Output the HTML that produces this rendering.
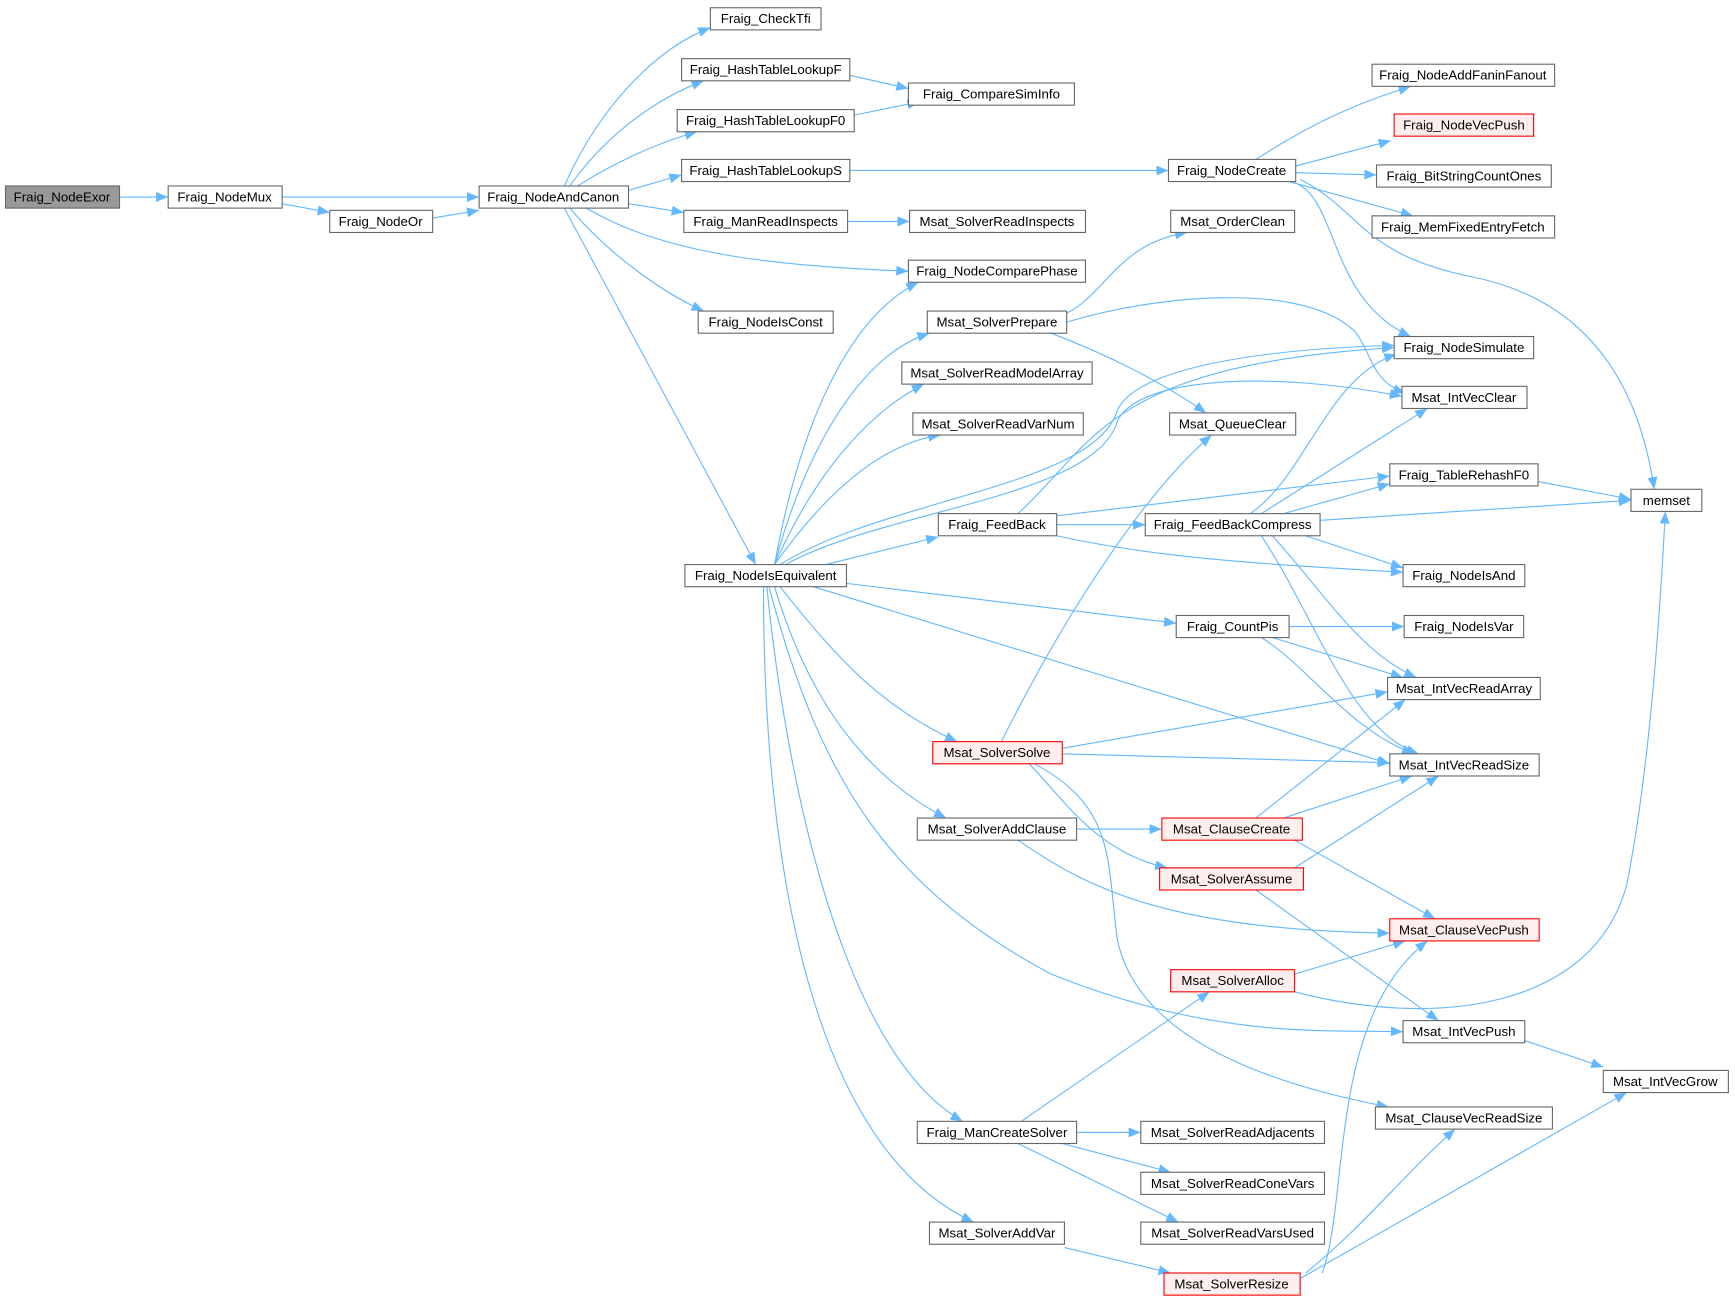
<!DOCTYPE html>
<html><head><meta charset="utf-8"><style>html,body{margin:0;padding:0;background:#fff}svg{display:block}</style></head>
<body>
<svg width="1735" height="1304" viewBox="0 0 1568 1178" preserveAspectRatio="none" xmlns="http://www.w3.org/2000/svg">
<defs>
<marker id="a" markerUnits="userSpaceOnUse" markerWidth="12" markerHeight="10" refX="11" refY="5" orient="auto"><path d="M0,0.5 L11,5 L0,9.5 Z" fill="#63b8ff"/></marker>
</defs>
<g fill="none" stroke="#63b8ff" stroke-width="1" marker-end="url(#a)">
<path d="M108,178 L152,178"/>
<path d="M255,178 L433,178"/>
<path d="M255,184 L298,192"/>
<path d="M391,197 L433,190"/>
<path d="M510,168 C540,100 590,45 642,25"/>
<path d="M515,168 C545,125 590,90 636,73"/>
<path d="M522,168 C550,150 590,130 630,119"/>
<path d="M568,172 L616,158"/>
<path d="M568,184 L618,192"/>
<path d="M530,188 C600,230 700,240 821,245"/>
<path d="M515,188 C550,230 600,265 636,281"/>
<path d="M510,188 L683,510"/>
<path d="M768,68 L821,80"/>
<path d="M772,104 L831,92"/>
<path d="M768,154 L1056,154"/>
<path d="M766,200 L822,200"/>
<path d="M1135,144 C1180,115 1220,95 1275,78"/>
<path d="M1171,150 L1257,127"/>
<path d="M1171,156 L1244,158"/>
<path d="M1165,164 L1277,195"/>
<path d="M1170,165 C1210,180 1200,270 1275,304"/>
<path d="M1175,162 C1230,190 1230,230 1330,250 C1430,270 1480,340 1495,442"/>
<path d="M964,283 C1000,265 1010,220 1073,210"/>
<path d="M964,291 C1050,265 1180,255 1225,300 C1240,320 1240,345 1270,355"/>
<path d="M950,301 C1000,320 1050,345 1090,373"/>
<path d="M700,510 C720,400 760,290 830,255"/>
<path d="M700,510 C730,400 780,320 840,301"/>
<path d="M700,510 C740,420 790,370 835,347"/>
<path d="M700,510 C750,440 800,400 850,393"/>
<path d="M705,510 C800,450 990,440 1010,370 C1030,330 1150,315 1260,312"/>
<path d="M710,510 C800,460 990,450 1010,380 C1030,340 1150,335 1267,358"/>
<path d="M746,510 L848,485"/>
<path d="M765,527 L1063,563"/>
<path d="M735,530 L1256,690"/>
<path d="M705,530 C760,600 800,640 865,670"/>
<path d="M700,530 C730,630 780,700 855,739"/>
<path d="M695,530 C740,700 800,800 950,880 C1100,940 1200,930 1268,932"/>
<path d="M693,530 C710,700 760,950 870,1013"/>
<path d="M690,530 C690,800 740,1040 880,1104"/>
<path d="M920,464 C990,400 1000,330 1260,314"/>
<path d="M955,466 L1256,430"/>
<path d="M955,474 L1035,474"/>
<path d="M955,484 C1050,505 1150,510 1268,517"/>
<path d="M1130,464 C1180,430 1200,340 1262,320"/>
<path d="M1140,464 L1290,369"/>
<path d="M1160,464 L1256,437"/>
<path d="M1193,470 L1474,452"/>
<path d="M1180,484 L1268,513"/>
<path d="M1150,484 C1200,540 1230,590 1280,612"/>
<path d="M1140,484 C1190,560 1220,660 1282,681"/>
<path d="M1390,435 L1474,451"/>
<path d="M1165,566 L1269,566"/>
<path d="M1150,576 L1268,612"/>
<path d="M1140,576 C1180,600 1220,660 1278,681"/>
<path d="M905,670 C970,540 1040,440 1095,393"/>
<path d="M960,676 L1254,625"/>
<path d="M960,681 L1256,689"/>
<path d="M930,690 C960,720 990,770 1055,784"/>
<path d="M935,690 C1010,730 1000,780 1010,850 C1030,940 1150,980 1255,1000"/>
<path d="M973,749 L1050,749"/>
<path d="M920,759 C980,800 1050,840 1256,843"/>
<path d="M1135,739 L1270,632"/>
<path d="M1160,739 L1276,701"/>
<path d="M1170,759 L1297,830"/>
<path d="M1170,784 L1300,701"/>
<path d="M1135,804 L1300,922"/>
<path d="M1170,880 L1270,850"/>
<path d="M1170,896 C1300,930 1440,910 1470,800 C1490,700 1500,560 1505,462"/>
<path d="M1378,940 L1449,964"/>
<path d="M923,1013 L1093,896"/>
<path d="M973,1023 L1031,1023"/>
<path d="M960,1033 L1058,1059"/>
<path d="M920,1033 L1065,1104"/>
<path d="M962,1127 L1058,1150"/>
<path d="M1195,1150 C1220,1080 1200,920 1290,850"/>
<path d="M1180,1150 C1230,1110 1270,1060 1315,1020"/>
<path d="M1175,1155 L1470,987"/>
</g>
<g font-family="Liberation Sans, Arial, sans-serif" font-size="12" text-anchor="middle" fill="#000">
<g stroke="#666" stroke-width="1" fill="#fff">
<rect x="5" y="168" width="103" height="20" fill="#999"/>
<rect x="152" y="168" width="103" height="20"/>
<rect x="298" y="190" width="93" height="20"/>
<rect x="433" y="168" width="135" height="20"/>
<rect x="642" y="7" width="100" height="20"/>
<rect x="616" y="53" width="152" height="20"/>
<rect x="612" y="99" width="160" height="20"/>
<rect x="616" y="144" width="152" height="20"/>
<rect x="618" y="190" width="148" height="20"/>
<rect x="631" y="281" width="122" height="20"/>
<rect x="619" y="510" width="146" height="20"/>
<rect x="821" y="75" width="150" height="20"/>
<rect x="822" y="190" width="159" height="20"/>
<rect x="821" y="235" width="160" height="20"/>
<rect x="838" y="281" width="126" height="20"/>
<rect x="815" y="327" width="172" height="20"/>
<rect x="825" y="373" width="154" height="20"/>
<rect x="848" y="464" width="107" height="20"/>
<rect x="829" y="739" width="144" height="20"/>
<rect x="829" y="1013" width="144" height="20"/>
<rect x="840" y="1104" width="122" height="20"/>
<rect x="1056" y="144" width="115" height="20"/>
<rect x="1058" y="190" width="112" height="20"/>
<rect x="1057" y="373" width="114" height="20"/>
<rect x="1035" y="464" width="158" height="20"/>
<rect x="1063" y="556" width="102" height="20"/>
<rect x="1031" y="1013" width="166" height="20"/>
<rect x="1031" y="1059" width="166" height="20"/>
<rect x="1031" y="1104" width="166" height="20"/>
<rect x="1240" y="58" width="165" height="20"/>
<rect x="1244" y="149" width="158" height="20"/>
<rect x="1240" y="195" width="165" height="20"/>
<rect x="1260" y="304" width="126" height="20"/>
<rect x="1267" y="349" width="113" height="20"/>
<rect x="1256" y="419" width="134" height="20"/>
<rect x="1268" y="510" width="110" height="20"/>
<rect x="1269" y="556" width="108" height="20"/>
<rect x="1254" y="612" width="138" height="20"/>
<rect x="1256" y="681" width="135" height="20"/>
<rect x="1268" y="922" width="110" height="20"/>
<rect x="1243" y="1000" width="160" height="20"/>
<rect x="1474" y="442" width="64" height="20"/>
<rect x="1449" y="967" width="113" height="20"/>
</g>
<g stroke="#f00" stroke-width="1" fill="#fee">
<rect x="843" y="670" width="117" height="20"/>
<rect x="1050" y="739" width="127" height="20"/>
<rect x="1048" y="784" width="130" height="20"/>
<rect x="1058" y="876" width="112" height="20"/>
<rect x="1052" y="1150" width="123" height="20"/>
<rect x="1260" y="103" width="126" height="20"/>
<rect x="1256" y="830" width="135" height="20"/>
</g>
<text x="56" y="182">Fraig_NodeExor</text>
<text x="203" y="182">Fraig_NodeMux</text>
<text x="344" y="204">Fraig_NodeOr</text>
<text x="500" y="182">Fraig_NodeAndCanon</text>
<text x="692" y="21">Fraig_CheckTfi</text>
<text x="692" y="67">Fraig_HashTableLookupF</text>
<text x="692" y="113">Fraig_HashTableLookupF0</text>
<text x="692" y="158">Fraig_HashTableLookupS</text>
<text x="692" y="204">Fraig_ManReadInspects</text>
<text x="692" y="295">Fraig_NodeIsConst</text>
<text x="692" y="524">Fraig_NodeIsEquivalent</text>
<text x="896" y="89">Fraig_CompareSimInfo</text>
<text x="901" y="204">Msat_SolverReadInspects</text>
<text x="901" y="249">Fraig_NodeComparePhase</text>
<text x="901" y="295">Msat_SolverPrepare</text>
<text x="901" y="341">Msat_SolverReadModelArray</text>
<text x="902" y="387">Msat_SolverReadVarNum</text>
<text x="901" y="478">Fraig_FeedBack</text>
<text x="901" y="684">Msat_SolverSolve</text>
<text x="901" y="753">Msat_SolverAddClause</text>
<text x="901" y="1027">Fraig_ManCreateSolver</text>
<text x="901" y="1118">Msat_SolverAddVar</text>
<text x="1113" y="158">Fraig_NodeCreate</text>
<text x="1114" y="204">Msat_OrderClean</text>
<text x="1114" y="387">Msat_QueueClear</text>
<text x="1114" y="478">Fraig_FeedBackCompress</text>
<text x="1114" y="570">Fraig_CountPis</text>
<text x="1113" y="753">Msat_ClauseCreate</text>
<text x="1113" y="798">Msat_SolverAssume</text>
<text x="1114" y="890">Msat_SolverAlloc</text>
<text x="1114" y="1027">Msat_SolverReadAdjacents</text>
<text x="1114" y="1073">Msat_SolverReadConeVars</text>
<text x="1114" y="1118">Msat_SolverReadVarsUsed</text>
<text x="1113" y="1164">Msat_SolverResize</text>
<text x="1322" y="72">Fraig_NodeAddFaninFanout</text>
<text x="1323" y="117">Fraig_NodeVecPush</text>
<text x="1323" y="163">Fraig_BitStringCountOnes</text>
<text x="1322" y="209">Fraig_MemFixedEntryFetch</text>
<text x="1323" y="318">Fraig_NodeSimulate</text>
<text x="1323" y="363">Msat_IntVecClear</text>
<text x="1323" y="433">Fraig_TableRehashF0</text>
<text x="1323" y="524">Fraig_NodeIsAnd</text>
<text x="1323" y="570">Fraig_NodeIsVar</text>
<text x="1323" y="626">Msat_IntVecReadArray</text>
<text x="1323" y="695">Msat_IntVecReadSize</text>
<text x="1323" y="844">Msat_ClauseVecPush</text>
<text x="1323" y="936">Msat_IntVecPush</text>
<text x="1323" y="1014">Msat_ClauseVecReadSize</text>
<text x="1506" y="456">memset</text>
<text x="1505" y="981">Msat_IntVecGrow</text>
</g>
</svg>
</body></html>
